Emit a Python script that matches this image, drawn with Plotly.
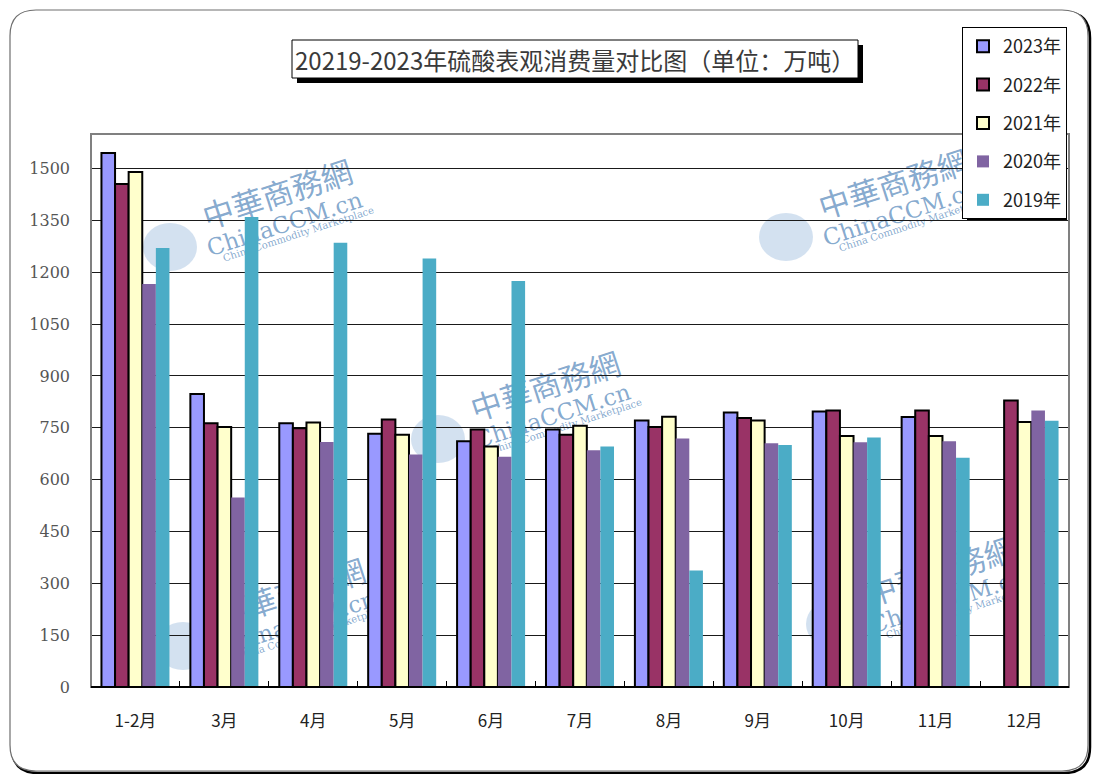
import plotly.graph_objects as go

# ---- data (万吨) ----
months = ["1-2月", "3月", "4月", "5月", "6月", "7月", "8月", "9月", "10月", "11月", "12月"]
series_names = ["2023年", "2022年", "2021年", "2020年", "2019年"]
v2023 = [1545, 848, 763, 733, 711, 745, 771, 794, 797, 781, None]
v2022 = [1455, 763, 749, 774, 745, 730, 752, 778, 800, 800, 829]
v2021 = [1490, 752, 765, 730, 696, 756, 782, 771, 726, 726, 767]
v2020 = [1166, 548, 709, 673, 666, 685, 719, 705, 708, 711, 800]
v2019 = [1270, 1360, 1285, 1240, 1175, 696, 337, 700, 722, 663, 770]
y_ticks = [0, 150, 300, 450, 600, 750, 900, 1050, 1200, 1350, 1500]
title_text = "20219-2023年硫酸表观消费量对比图（单位：万吨）"

values = [v2023, v2022, v2021, v2020, v2019]
colors = ["#9999FF", "#993366", "#FFFFCC", "#8064A2", "#4BACC6"]
outlined = [True, True, True, False, False]

W, H = 1095, 774
L, R, T, B = 91, 1069, 134, 687  # plot area in pixels


def px(x):
    return (x - L) / (R - L)


def py(y):
    return (B - y) / (B - T)


fig = go.Figure()
for name, vals, col, ol in zip(series_names, values, colors, outlined):
    fig.add_trace(go.Bar(
        x=months, y=vals, name=name, legendgroup=name,
        marker=dict(color=col,
                    line=dict(color="#000000", width=2 if ol else 0)),
    ))

shapes = []


# outer rounded frame with a dark edge at bottom-right
def rounded_path(x0, y0, x1, y1, r):
    rx = r / (R - L)
    ry = r / (B - T)
    a0, a1 = px(x0), px(x1)
    b0, b1 = py(y0), py(y1)
    return (f"M {a0+rx},{b0} L {a1-rx},{b0} Q {a1},{b0} {a1},{b0-ry} "
            f"L {a1},{b1+ry} Q {a1},{b1} {a1-rx},{b1} L {a0+rx},{b1} "
            f"Q {a0},{b1} {a0},{b1+ry} L {a0},{b0-ry} Q {a0},{b0} {a0+rx},{b0} Z")


shapes.append(dict(type="path", xref="paper", yref="paper", layer="below",
                   path=rounded_path(12, 12, 1090, 773, 26),
                   line=dict(color="#000000", width=2.5)))
shapes.append(dict(type="path", xref="paper", yref="paper", layer="below",
                   path=rounded_path(10, 10, 1088, 771, 26),
                   fillcolor="#FFFFFF",
                   line=dict(color="#6E6E6E", width=1.2)))

# watermark logos behind the bars
wm_centers = [(277, 193), (545, 385), (893, 183), (290, 592), (940, 570)]
wm_color = "rgba(55,115,175,0.62)"
for cx, cy in wm_centers:
    gx, gy = cx - 107, cy + 54
    shapes.append(dict(type="circle", xref="paper", yref="paper", layer="between",
                       x0=px(gx - 27), x1=px(gx + 27), y0=py(gy + 24), y1=py(gy - 24),
                       fillcolor="rgba(110,155,205,0.30)", line=dict(width=0)))
    for dx, dy, txt, size in [(0, 0, "中華商務網", 31),
                              (7, 29, "ChinaCCM.cn", 23),
                              (21, 40, "China Commodity Marketplace", 10)]:
        x0, y0 = cx + dx - 60, cy + dy + 20
        x1, y1 = cx + dx + 60, cy + dy - 20
        shapes.append(dict(type="line", xref="paper", yref="paper", layer="between",
                           x0=px(x0), y0=py(y0), x1=px(x1), y1=py(y1),
                           line=dict(color="rgba(0,0,0,0)", width=0),
                           label=dict(text=txt, textangle=-18, textposition="middle",
                                      yanchor="middle", xanchor="center",
                                      font=dict(family="DejaVu Serif, Noto Sans CJK SC, serif",
                                                size=size, color=wm_color))))

# plot-area border
shapes.append(dict(type="rect", xref="paper", yref="paper", layer="above",
                   x0=0, x1=1, y0=0, y1=1, line=dict(color="#808080", width=2)))
shapes.append(dict(type="line", xref="paper", yref="paper", layer="above",
                   x0=0, x1=1, y0=0, y1=0, line=dict(color="#000000", width=2)))

# title box with drop shadow
tx0, ty0, tx1, ty1 = 292, 40, 858, 78
shapes.append(dict(type="rect", xref="paper", yref="paper", layer="above",
                   x0=px(tx0 + 5), x1=px(tx1 + 5), y0=py(ty1 + 5), y1=py(ty0 + 5),
                   fillcolor="#000000", line=dict(width=0)))
shapes.append(dict(type="rect", xref="paper", yref="paper", layer="above",
                   x0=px(tx0), x1=px(tx1), y0=py(ty1), y1=py(ty0),
                   fillcolor="#FFFFFF", line=dict(color="#000000", width=1)))

# legend shadow
lx0, ly0, lx1, ly1 = 962, 27, 1062, 215
shapes.append(dict(type="rect", xref="paper", yref="paper", layer="above",
                   x0=px(lx0 + 5), x1=px(lx1 + 5), y0=py(ly1 + 5), y1=py(ly0 + 5),
                   fillcolor="#000000", line=dict(width=0)))

annotations = [dict(text=title_text, xref="paper", yref="paper",
                    x=px((tx0 + tx1) / 2), y=py((ty0 + ty1) / 2),
                    xanchor="center", yanchor="middle", showarrow=False,
                    font=dict(family="Noto Sans CJK SC", size=24, color="#3A3A3A"))]

fig.update_layout(
    width=W, height=H,
    margin=dict(l=L, r=W - R, t=T, b=H - B, pad=0),
    paper_bgcolor="#FFFFFF",
    plot_bgcolor="rgba(0,0,0,0)",
    barmode="group", bargap=0.235, bargroupgap=0,
    shapes=shapes, annotations=annotations,
    showlegend=True,
    legend=dict(x=px(lx0), y=py(ly0), xanchor="left", yanchor="top",
                bgcolor="#FFFFFF", bordercolor="#000000", borderwidth=1,
                font=dict(family="Noto Sans CJK SC", size=18, color="#222222"),
                tracegroupgap=12, traceorder="grouped",
                itemwidth=30),
    xaxis=dict(type="category", tickson="boundaries", ticks="inside", ticklen=6,
               tickcolor="#000000", showgrid=False, showline=False,
               tickfont=dict(family="Noto Sans CJK SC", size=17, color="#222222"),
               ticklabelstandoff=22),
    yaxis=dict(range=[0, 1600], tickvals=y_ticks, showgrid=True,
               gridcolor="#1A1A1A", gridwidth=1, zeroline=False, showline=False,
               ticks="", tickfont=dict(family="DejaVu Serif", size=16, color="#555555"),
               ticklabelstandoff=20),
    font=dict(family="Noto Sans CJK SC"),
)

fig.write_html("out.html")
